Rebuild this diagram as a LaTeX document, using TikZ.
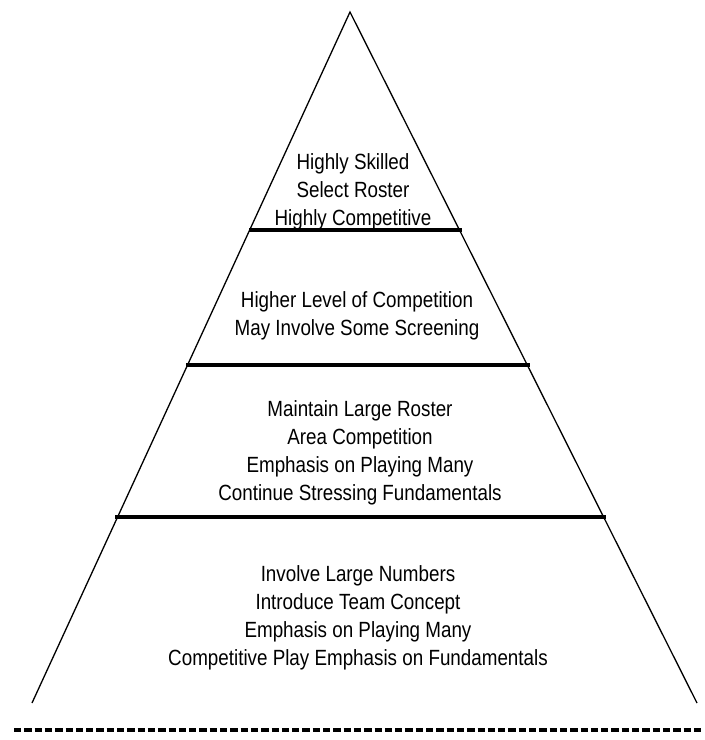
\documentclass[tikz,border=0pt]{standalone}
\usepackage{fontspec}
\newfontfamily\tierfont[FakeStretch=0.855]{Liberation Sans}

\begin{document}
\begin{tikzpicture}[x=1pt,y=-1pt]
    % `tier' is used for the text inside each band of the pyramid.
    % `divider' is used for the heavy lines between the bands.
    % `ground' is used for the dashed line under the pyramid.
    \tikzstyle{tier} = [align=center,inner sep=0pt,font=\tierfont\fontsize{22}{28}\selectfont]
    \tikzstyle{edge} = [line width=1.3pt,line join=miter]
    \tikzstyle{divider} = [line width=3.3pt]
    \tikzstyle{ground} = [line width=3.5pt,dash pattern=on 7.3pt off 3pt]
    \useasboundingbox (0,0) rectangle (705,740);
    %
    \coordinate (apex) at (350,12);
    \coordinate (baseL) at (32,703);
    \coordinate (baseR) at (697,703);
    \coordinate (divAL) at (249,230);
    \coordinate (divAR) at (462,230);
    \coordinate (divBL) at (186,365);
    \coordinate (divBR) at (530,365);
    \coordinate (divCL) at (115,517);
    \coordinate (divCR) at (606,517);
    \coordinate (groundL) at (14,730);
    \coordinate (groundR) at (703,730);
    %
    \node[tier] (tierA) at (353,192) {Highly Skilled\\Select Roster\\Highly Competitive};
    \node[tier] (tierB) at (357,316) {Higher Level of Competition\\May Involve Some Screening};
    \node[tier] (tierC) at (360,453) {Maintain Large Roster\\Area Competition\\Emphasis on Playing Many\\Continue Stressing Fundamentals};
    \node[tier] (tierD) at (358,618) {Involve Large Numbers\\Introduce Team Concept\\Emphasis on Playing Many\\Competitive Play Emphasis on Fundamentals};
    %
    % Draw pyramid sides, band lines and the ground line.
    \draw[edge] (baseL) -- (apex) -- (baseR);
    \draw[divider] (divAL) -- (divAR)  (divBL) -- (divBR)  (divCL) -- (divCR);
    \draw[ground] (groundL) -- (groundR);
\end{tikzpicture}
\end{document}
